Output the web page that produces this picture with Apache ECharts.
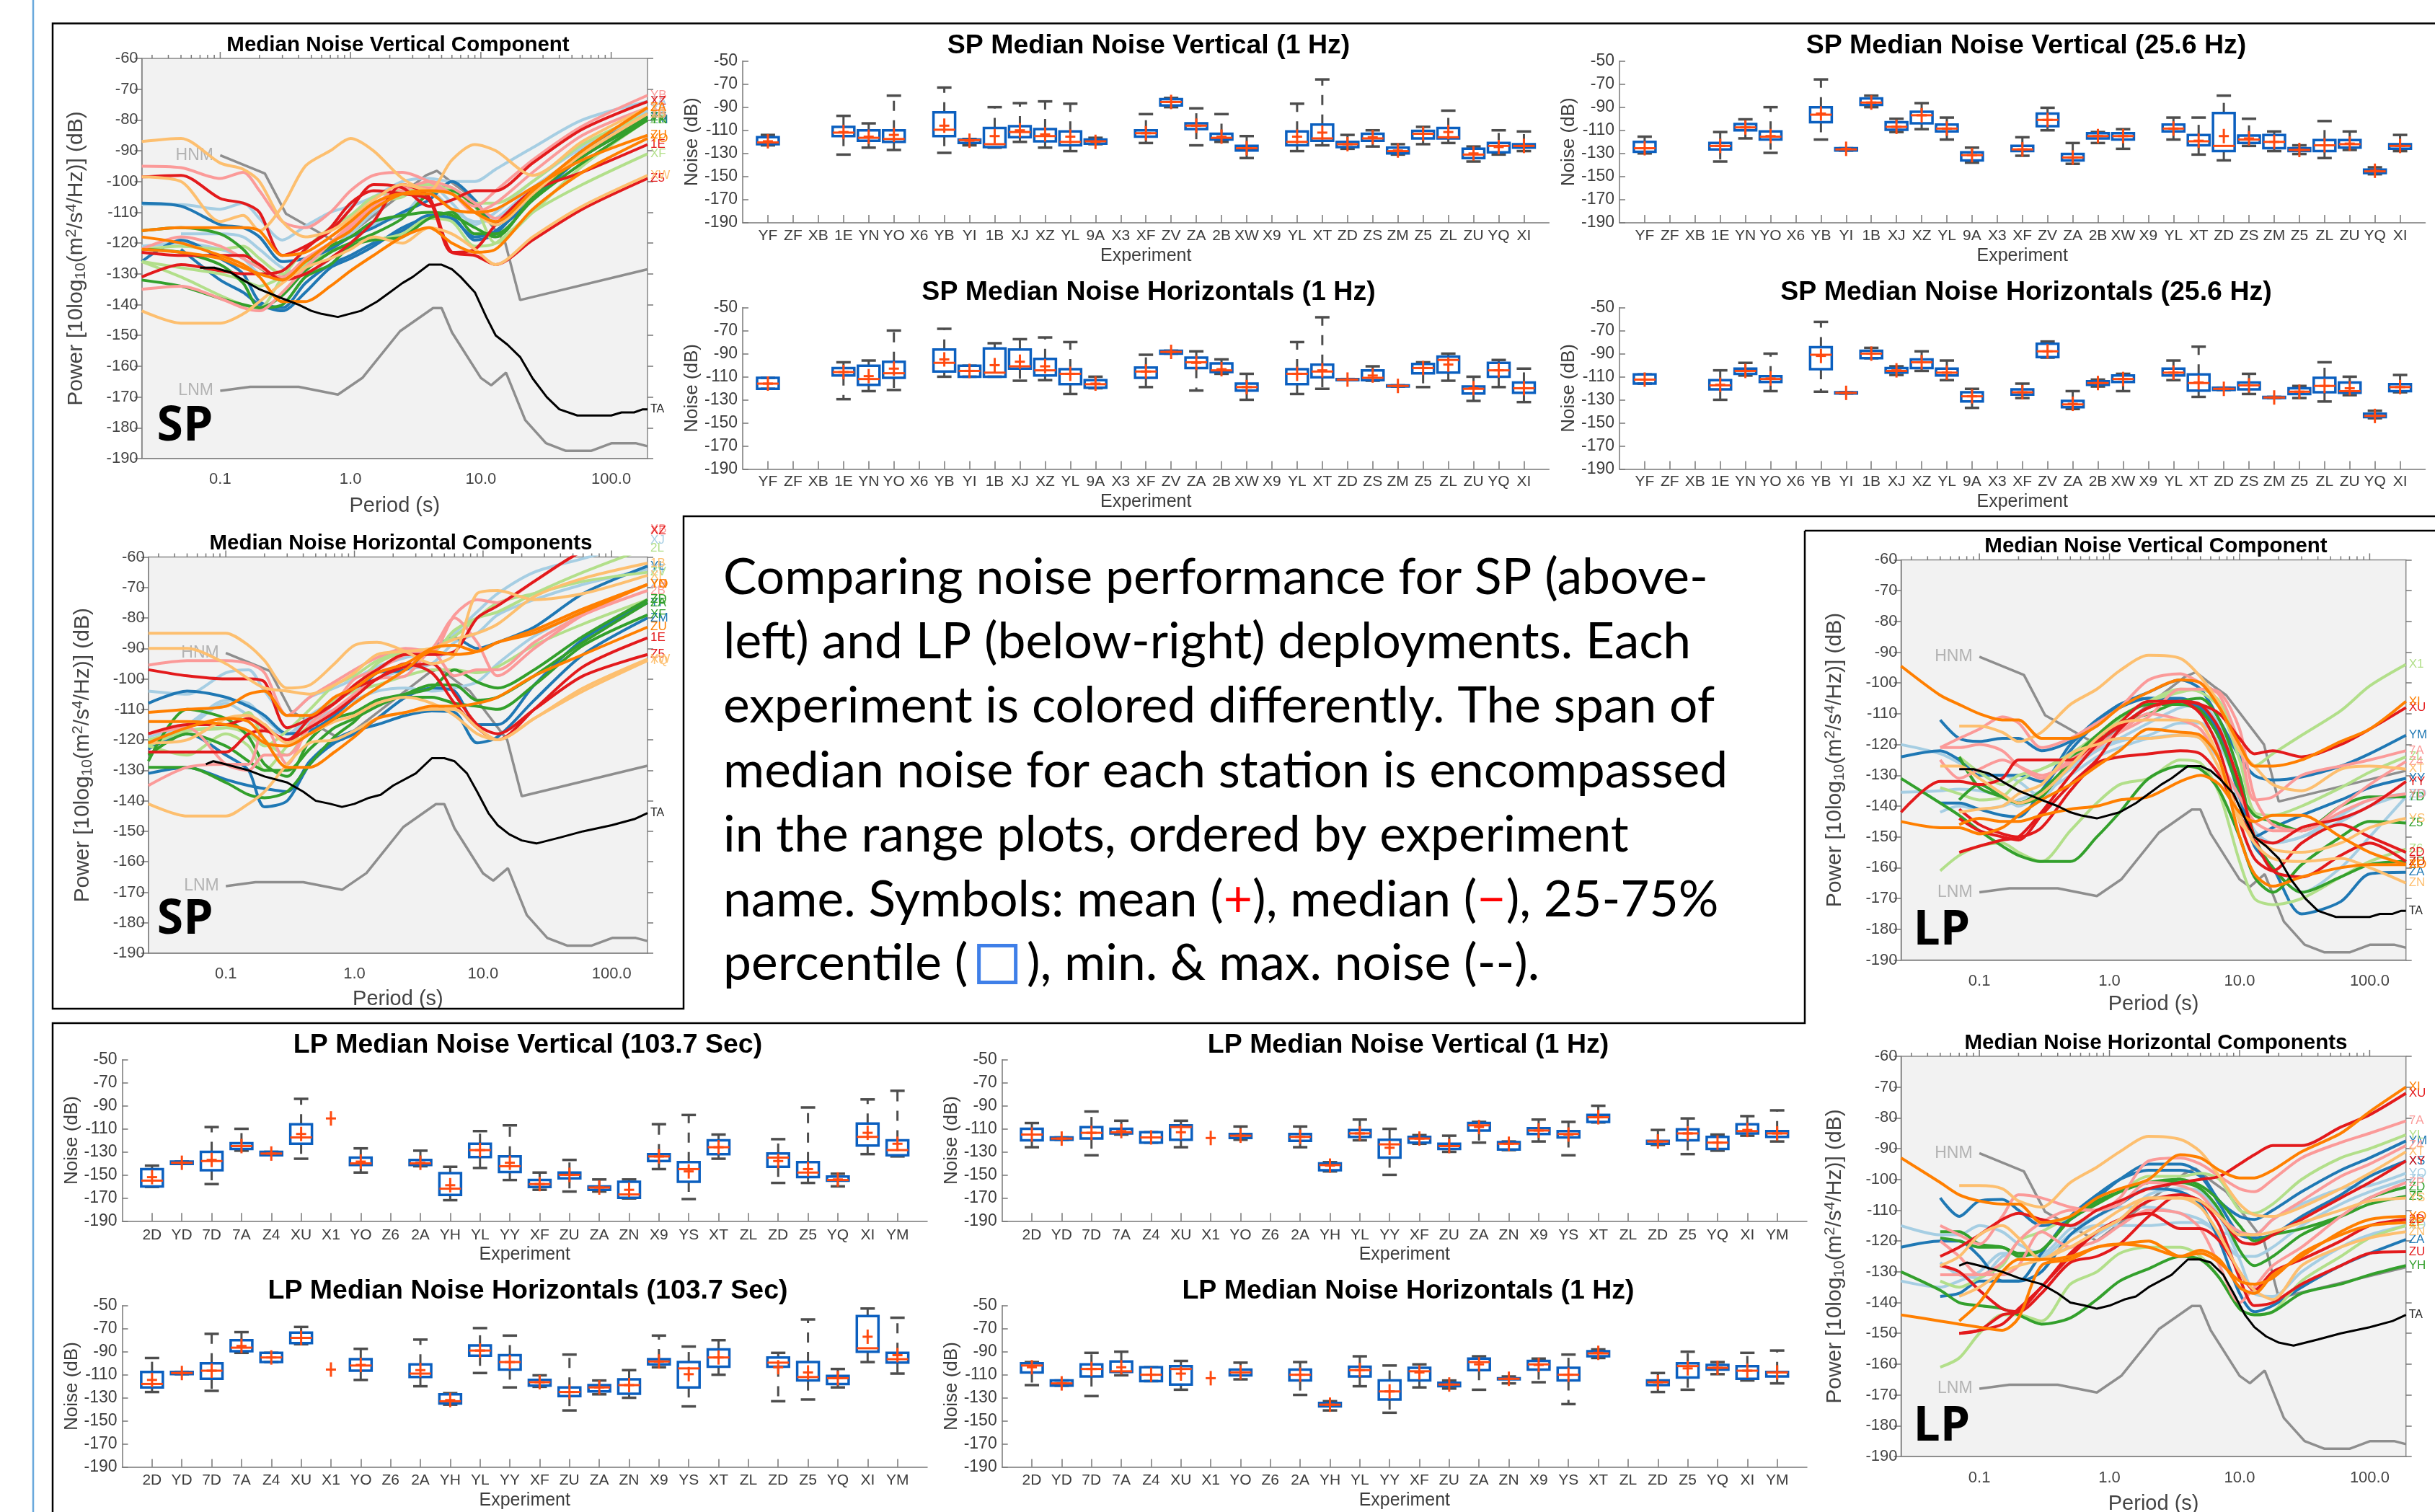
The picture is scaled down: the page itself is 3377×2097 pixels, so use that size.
<!DOCTYPE html>
<html><head><meta charset="utf-8"><style>html,body{margin:0;padding:0;background:#fff}#c{width:3377px;height:2097px}</style>
<script src="https://cdn.jsdelivr.net/npm/echarts@6/dist/echarts.min.js"></script></head><body><div id="c"></div>
<script>
// ---------- categories ----------
const spExperiments=['YF','ZF','XB','1E','YN','YO','X6','YB','YI','1B','XJ','XZ','YL','9A','X3','XF','ZV','ZA','2B','XW','X9','YL','XT','ZD','ZS','ZM','Z5','ZL','ZU','YQ','XI'];
const lpExperiments=['2D','YD','7D','7A','Z4','XU','X1','YO','Z6','2A','YH','YL','YY','XF','ZU','ZA','ZN','X9','YS','XT','ZL','ZD','Z5','YQ','XI','YM'];
const noiseTicks=[-190,-170,-150,-130,-110,-90,-70,-50];
// box rows: [low whisker, q1, median, q3, high whisker, mean]; _ = no data
const _=null, E=[_,_,_,_,_,_];
const spV1Hz=[[-123,-122,-120.5,-116,-114,-119.5],E,E,[-131,-115,-112,-107,-97.5,-111.5],[-125,-119,-116.5,-110,-104,-115.5],[-127,-120,-117.5,-110,-80,-114],E,[-129.5,-115,-109.5,-94.5,-73,-106],[-123,-121,-118.5,-118,-117.5,-119],[-125,-124.5,-122,-108,-90,-115],[-120,-116,-111.5,-106.5,-86.5,-110],[-125,-119.5,-115,-109,-85,-113.5],[-128,-123,-120,-111,-87,-115.5],[-122,-121.5,-119.5,-118,-116.5,-120],E,[-121,-115.5,-112.5,-110,-96,-112.5],[-90,-88.5,-85.5,-83,-82,-85.5],[-123,-109,-106,-104,-91,-106],[-120,-118,-116.5,-113,-96,-115.5],[-134,-127.5,-125.5,-123.5,-115,-125.5],E,[-128,-123,-120,-111,-87,-115.5],[-123,-119,-117,-105,-66,-112],[-126,-124.5,-122,-120,-114,-122],[-124,-119,-117,-113,-110,-116],[-131,-130,-128,-125,-122,-127.5],[-122,-117,-113,-110.5,-107,-113],[-121,-117,-116,-108,-93,-111.5],[-137,-134,-131,-126,-124,-130],[-131,-129,-123.5,-121,-110,-124.5],[-128,-125,-123.5,-122,-111,-123.5]];
const spH1Hz=[[-120.5,-120.5,-116,-111,-111,-116],E,E,[-129.5,-109,-106,-102.5,-97.5,-106],[-122.5,-117,-112,-100.5,-96,-109.5],[-121.5,-111,-107,-97,-70,-103],E,[-110,-105.5,-98,-86.5,-68.5,-95],[-110,-110,-105,-100.5,-100.5,-105],[-110,-110,-106.5,-85.5,-81,-100],[-113.5,-103,-101,-86.5,-77.5,-97],[-113,-109,-104.5,-94.5,-76,-101],[-125,-116.5,-107.5,-103.5,-80,-107.5],[-120,-119.5,-116.5,-113,-110,-116],E,[-119,-111,-105.5,-102,-91,-105.5],[-90,-90,-88.5,-87.5,-87.5,-88.5],[-122,-102.5,-97.5,-93.5,-88,-98],[-107.5,-106,-104.5,-98.5,-95,-103.5],[-130,-122,-119,-116,-107.5,-119],E,[-125,-116.5,-107.5,-103.5,-80,-107.5],[-120.5,-110.5,-105.5,-99.5,-58.5,-104.5],[-113,-113,-112.5,-112,-112,-112.5],[-113.5,-113,-111,-104.5,-101,-109],[-118.5,-118.5,-118,-117.5,-117.5,-118],[-119,-107,-102.5,-99,-97.5,-102.5],[-113.5,-106.5,-95.5,-92.5,-90,-99.5],[-131,-124.5,-120.5,-118.5,-110,-120],[-119,-110,-104.5,-98,-95.5,-104.5],[-132,-124,-120,-115,-103,-120]];
const spV25Hz=[[-130,-128.5,-125.5,-120,-115.5,-125.5],E,E,[-137,-126.5,-123.5,-121,-111.5,-123.5],[-117,-110,-107.5,-104.5,-100.5,-107.5],[-129.5,-118,-115.5,-111,-90,-115],E,[-118,-103,-96.5,-90,-66,-95.5],[-127.5,-127.5,-126.5,-125.5,-125.5,-126],[-90,-88,-86,-82.5,-80,-86],[-111.5,-109.5,-107,-103,-100,-107],[-109,-104,-97,-94,-86.5,-97],[-118,-111,-108.5,-105,-99,-108.5],[-138,-136,-131.5,-129,-125,-131.5],E,[-132,-128,-126.5,-123.5,-116,-126.5],[-110,-106.5,-101,-95.5,-90.5,-101],[-139,-136,-133.5,-130.5,-121,-133.5],[-121,-117,-115,-112.5,-111.5,-115],[-126,-118,-115,-112.5,-109,-115],E,[-118,-111,-108.5,-105,-99,-108.5],[-131,-123,-119.5,-114,-99,-119],[-136,-128,-123.5,-95,-80,-115],[-123.5,-121,-118,-114.5,-100,-117],[-128,-125.5,-120,-114,-111,-120],[-130.5,-128,-127,-125.5,-123,-127],[-134,-128,-123,-118.5,-102,-123],[-127,-125,-122,-118.5,-111,-121.5],[-148,-147,-145.5,-144,-142,-145],[-128,-126,-123.5,-122,-114,-123.5]];
const spH25Hz=[[-116,-116,-112.5,-108,-108,-112.5],E,E,[-130,-121,-117.5,-113,-104.5,-117],[-109,-107.5,-105,-103,-98,-105],[-122.5,-114.5,-112,-109.5,-90,-111.5],E,[-123,-103.5,-91,-84.5,-62.5,-92],[-124.5,-124.5,-124,-123.5,-123.5,-124],[-94,-94,-90,-87.5,-85,-90],[-108.5,-106.5,-105,-102.5,-101,-104.5],[-105,-102.5,-97.5,-95,-88,-97.5],[-113,-109,-106.5,-103,-96,-106.5],[-137,-131.5,-127,-123.5,-120.5,-127],E,[-128.5,-125.5,-123.5,-121,-116,-123.5],[-93.5,-93,-88,-81.5,-79.5,-88],[-138,-136.5,-134,-131,-122.5,-133.5],[-118.5,-117,-115.5,-114,-112.5,-115.5],[-122.5,-114.5,-112,-109,-107.5,-112],E,[-113,-109,-106.5,-103,-96,-106.5],[-127.5,-122,-115.5,-108,-84,-115],[-121.5,-121.5,-120.5,-119.5,-119.5,-120.5],[-125,-121,-117.5,-115,-107.5,-117.5],[-128.5,-128.5,-128,-127.5,-127.5,-128],[-128.5,-125,-123,-120,-118,-123],[-131.5,-123.5,-118,-111,-97.5,-118],[-126,-124,-122.5,-115,-110,-120],[-146,-145,-144,-142,-139.5,-144],[-123.5,-122.5,-119,-116.5,-108.5,-119]];
const lpV103=[[-160.5,-160,-155,-145,-142,-152],[-140.5,-140.5,-139.5,-138.5,-138.5,-139.5],[-158,-146,-138,-130,-108.5,-137],[-129,-127.5,-125,-122.5,-110,-125],[-133,-133,-131.5,-130,-130,-131.5],[-136,-123,-117.5,-106,-84,-114.5],[_,_,_,_,_,-101],[-148,-141.5,-140,-135,-127,-138.5],E,[-142.5,-141.5,-140,-137,-129,-139.5],[-172,-167.5,-162,-148.5,-143,-159],[-144,-134.5,-128.5,-123,-112,-128.5],[-154.5,-147.5,-142.5,-134,-107,-139.5],[-163,-160.5,-158,-154.5,-148,-158],[-164.5,-153,-150,-148,-137,-150],[-164.5,-163,-161,-160,-154,-161],[-170.5,-170,-167,-156,-154,-163],[-145,-138,-134,-132,-106,-134],[-171,-156,-145,-139,-98,-147],[-136,-132,-126,-120,-115,-126],E,[-157,-143,-135,-131.5,-119,-138],[-157,-152,-148,-139,-91.5,-145],[-160,-155,-154.5,-151.5,-149,-154],[-132,-124.5,-117,-105.5,-84.5,-113.5],[-134,-133,-128.5,-120,-77,-123]];
const lpH103=[[-125,-121,-118,-107.5,-95.5,-114.5],[-109.5,-109.5,-108.5,-107.5,-107.5,-108.5],[-124,-113.5,-106.5,-100,-74.5,-106.5],[-91,-89.5,-86.5,-80,-73,-85],[-99,-99,-95,-91,-91,-95],[-83.5,-82.5,-78,-73.5,-68.5,-78],[_,_,_,_,_,-105.5],[-114.5,-106.5,-102,-96.5,-87.5,-101.5],E,[-120,-112,-109,-101,-79.5,-106],[-136,-135,-133,-127,-126,-132],[-108.5,-93.5,-89,-84.5,-69.5,-89],[-121,-105.5,-99,-93,-76,-99],[-120.5,-119.5,-116.5,-114.5,-110.5,-116.5],[-141,-128.5,-125,-121,-92.5,-125],[-127,-124.5,-121,-119,-115,-121],[-130,-126.5,-119,-114,-106,-119],[-103.5,-101,-98.5,-96.5,-76,-98.5],[-137.5,-121,-104.5,-99,-85.5,-109.5],[-110,-103,-95,-88,-80,-95],E,[-133,-103,-99.5,-95,-91,-103.5],[-131.5,-115,-112,-99,-62,-108],[-121,-118,-113,-111,-105,-113],[-99,-90,-87,-59,-52.5,-77],[-109,-99.5,-96.5,-91,-60.5,-93]];
const lpV1Hz=[[-126,-120,-115,-110,-105,-115],[-119.5,-119.5,-118.5,-117.5,-117.5,-118.5],[-133,-118.5,-113.5,-108.5,-95,-113.5],[-115,-114,-113,-110,-103,-112],[-122,-122,-117.5,-113,-113,-117.5],[-126,-119.5,-108.5,-107,-103,-113],[_,_,_,_,_,-118],[-119.5,-118,-116,-114.5,-108,-116],E,[-126,-120.5,-117,-114.5,-108,-117],[-147,-146,-141.5,-140,-139,-142],[-120,-117,-114,-111,-102,-114],[-150,-135,-123.5,-119.5,-110,-126.5],[-123,-122,-118.5,-117,-115.5,-118.5],[-130,-127.5,-125,-123,-116,-125],[-122,-111.5,-107,-105,-104,-108.5],[-128.5,-128,-123,-121.5,-121,-123],[-121,-114.5,-111.5,-109.5,-102,-111.5],[-133,-117.5,-114.5,-112,-104,-115],[-104.5,-104,-100,-98,-90,-100],E,[-124,-123,-121,-120.5,-111,-121],[-132,-120,-114,-110.5,-101,-114],[-129,-127.5,-122,-117,-115,-122],[-116,-114,-112,-106,-99,-111],[-121,-117,-114,-112,-94,-114]];
const lpH1Hz=[[-119,-108,-102,-100,-99,-103.5],[-119.5,-119.5,-117.5,-115,-115,-117.5],[-128.5,-111.5,-105,-101,-91,-105],[-110.5,-107.5,-107,-98.5,-90,-103.5],[-115.5,-115.5,-110,-103.5,-103.5,-110],[-123,-118.5,-105,-102.5,-98,-109],[_,_,_,_,_,-113],[-114,-110.5,-108,-105.5,-99.5,-108],E,[-127.5,-115,-110,-105.5,-99,-110],[-141,-137.5,-136,-134.5,-133,-136],[-120,-111.5,-106,-103,-94,-106],[-143,-131.5,-124.5,-115,-102,-124.5],[-121,-115,-107,-104,-101,-108],[-122,-120,-118.5,-117,-115,-118.5],[-123,-106,-99,-96,-94,-101],[-117.5,-114,-113.5,-113,-111.5,-113.5],[-116.5,-105.5,-101,-98,-96,-101.5],[-135.5,-115,-110,-104,-92.5,-110],[-95.5,-94,-91.5,-89.5,-88,-91],E,[-125,-119,-116.5,-115,-108.5,-116.5],[-123,-112.5,-102.5,-100,-90,-104.5],[-109.5,-105.5,-104,-101.5,-99,-104],[-115,-113.5,-106.5,-102.5,-91,-106.5],[-117.5,-111.5,-108,-107.5,-89,-108]];

// ---------- spectra ----------
const spPeriods=[0.025,0.05,0.1,0.15,0.2,0.3,0.45,0.7,1,1.5,2.5,4,6,9,13,25,60,190];
const lpPeriods=[0.025,0.05,0.07,0.1,0.15,0.2,0.3,0.5,0.8,1.2,2,3.5,5,7,10,13,18,30,60,100,190];
const hnmPeriods=[0.1,0.22,0.32,0.8,3.8,4.6,6.3,7.9,15.4,20,190];
const hnmValues=[-91.5,-97.4,-110.5,-120,-98,-96.5,-101,-104,-120,-138.5,-128.5];
const lnmPeriods=[0.1,0.17,0.4,0.8,1.24,2.4,4.3,5,6,10,12,15.6,21.9,31.6,45,70,101,154,190];
const lnmValues=[-168,-166.7,-166.7,-169.2,-163.7,-148.6,-141.1,-141.1,-149,-163.8,-166.2,-162.1,-177.5,-185,-187.5,-187.5,-185,-185,-186];
const taVP=[0.07,0.09,0.12,0.15,0.2,0.3,0.4,0.5,0.6,0.8,1.2,1.6,2,2.5,3,4,5,6,7,9,11,13,16,20,25,32,40,55,100,120,150,175,190];
const taVV=[-128,-128,-129.5,-132,-135,-138,-140,-142,-143,-144,-142,-139,-136,-133,-131,-127,-127,-128.5,-131,-136,-144,-150,-153,-157,-164,-170,-174,-176,-176,-175,-175,-174,-174];
const taHP=[0.07,0.08,0.1,0.15,0.2,0.3,0.4,0.5,0.65,0.8,1,1.3,1.6,2,3,4,5,6,7.5,9,11,13,16,20,26,40,60,100,150,190];
const taHV=[-128,-127,-128,-130,-132,-134,-137,-140,-141,-142,-141,-139,-138,-135,-131,-126,-126,-127,-131,-137,-144,-148,-151,-153,-154,-152,-150,-148,-146,-144];
const minorPeriods=[0.03,0.04,0.05,0.06,0.07,0.08,0.09,0.2,0.3,0.4,0.5,0.6,0.7,0.8,0.9,2,3,4,5,6,7,8,9,20,30,40,50,60,70,80,90];
const decadePeriods=[0.1,1,10,100];
// palette index: 0 lt blue,1 blue,2 lt green,3 green,4 pink,5 red,6 lt orange,7 orange
const spVNames=['ZA','ZS','XT','ZD','ZM','YF','ZL','2B','XF','YI','ZV','YN','YB','XB','XJ','XZ','Z5','1E','XW','YL','1B','ZU','YO','ZA'];
const spVColours=[0,0,0,1,1,1,2,2,2,3,3,3,4,4,4,5,5,5,6,6,6,7,7,7];
const spVCurves=[
[-107.5,-107.5,-109,-107,-112,-119,-114.5,-110,-108,-105,-100,-99,-100,-100,-96,-89,-80,-74],
[_,-117,-117,-118,-122,-128,-130,-125,-120,-114,-111,-103,-109,-113,-112,-102,-91,-77],
[-121,-120,-122,-125,-130,-131,-128,-122,-117,-110,-103,-101,-107,-114,-110,-100,-89,-78],
[-107,-108,-114,-115,-118,-126,-125,-122,-118,-115,-110,-106,-100,-106,-114,-104,-90,-79],
[-126,-119,-125,-130,-139,-141,-133,-127,-124,-120,-116,-111,-112,-118,-116,-106,-92,-80],
[_,-122,-132,-136,-140,-142,-136,-128,-125,-121,-115,-112,-112,-119,-117,-104,-92,-79],
[-122,-121,-122,-121,-125,-130,-127,-120,-115,-107,-105,-100,-102,-107,-107,-100,-88,-78],
[-126,-131,-137,-140,-141,-131,-122,-115,-111,-105,-103,-101,-103,-108,-120,-110,-95,-80],
[-126,-128,-130,-132,-134,-131,-127,-123,-120,-119,-117,-112,-113,-121,-120,-110,-101,-91],
[-116,-115,-117,-122,-128,-131,-126,-121,-118,-113,-111,-110,-111,-115,-118,-105,-92,-80],
[-132,-134,-138,-140,-141,-137,-129,-123,-120,-117,-112,-104,-103,-108,-114,-103,-91,-79],
[-122,-123,-127,-133,-141,-140,-131,-127,-121,-119,-118,-112,-110,-117,-117,-106,-94,-80],
[-95,-95.5,-99,-97,-103,-113,-115,-110,-103,-98,-97,-100,-104,-108,-103,-93,-82,-72],
[-122,-118,-121,-125,-128,-131,-125,-120,-115,-108,-103,-100,-102,-107,-112,-103,-91,-78],
[-135,-134,-138,-141,-142,-136,-128,-120,-114,-108,-102,-102,-104,-110,-107,-97,-85,-76],
[-98.5,-98,-105.5,-107,-110,-124,-121,-116,-109,-101,-102,-108,-106,-103,-103,-94,-83,-74],
[-123,-124,-124,-124,-127,-132,-130,-125,-120,-113,-101,-105,-123,-124,-127,-119,-109,-99],
[-131,-127,-129,-130,-130,-129,-122,-115,-107,-103,-104,-106,-123,-122,-114,-103,-97,-88],
[-142,-146,-146,-143,-139,-133,-128,-125,-122,-118,-120,-115,-117,-122,-127,-118,-108,-98],
[-98.5,-100,-113,-111,-116,-108,-95,-90,-86,-90,-99,-103,-93,-88,-90,-98,-87,-76],
[-87,-86,-94,-96,-100,-113,-118,-116,-112,-106,-101,-103,-104,-110,-114,-104,-91,-78],
[-116,-115,-115,-115,-116,-124,-123,-118,-113,-107,-104,-104,-109,-110,-109,-102,-93,-85],
[-118,-120,-124,-127,-131,-139,-139,-134,-129,-124,-118,-115,-120,-123,-122,-109,-97,-86],
[-122,-123,-125,-128,-130,-132,-126,-120,-116,-109,-104,-103,-104,-110,-113,-103,-90,-76]];
const spHNames=['XJ','XT','ZS','YL','ZM','YF','2L','ZV','ZR','ZD','ZA','XF','XB','2B','YB','XZ','Z5','1E','XW','1B','XI','YQ','YO','ZU','YN'];
const spHColours=[0,0,0,1,1,1,2,2,2,3,3,3,4,4,4,5,5,5,6,6,6,6,7,7,7];
const spHCurves=[
[-104,-105,-98,-97,-104,-112,-106,-103,-100,-96,-93,-91,-85,-78,-72,-65,-60.5,-54.5],
[-120,-116,-108,-112,-116,-118,-112,-107,-104,-100,-97,-95,-88,-85,-79,-74,-69,-64],
[-119,-115,-107,-108,-113,-118,-114,-110,-107,-104,-103,-104,-103,-101,-95,-86,-78,-69],
[-108,-104,-106,-109,-112,-118,-117,-112,-106,-98,-97,-90,-86.5,-90,-88,-83,-72,-63],
[-131,-129,-133,-135,-136,-137,-127,-120,-117,-115,-112,-110.5,-111,-121,-119,-107,-92,-80],
[-123,-118,-125,-130,-142,-140,-128,-121,-118,-113,-106,-103,-104,-115,-115,-102,-87,-75],
[-122,-117,-116,-118,-122,-117,-110,-102,-99,-94,-91,-91,-84,-80,-78,-72,-65,-57],
[-120,-117,-116,-111,-120,-125,-115,-108,-103,-95,-91,-90,-86,-80,-75,-72,-68,-65],
[-122,-125,-118,-122,-130,-122,-115,-107,-104,-102,-99,-97,-97,-98,-96,-89,-82,-74],
[-127,-110,-113,-119,-128,-132,-120,-113,-111,-107,-105,-103,-97,-101,-103,-97,-86,-74],
[-125,-118,-122,-127,-130,-130,-123,-116,-113,-109,-105,-102,-102,-107,-106,-99,-88,-75],
[-129,-129,-134,-138,-139,-137,-128,-119,-114,-107,-106,-106,-108,-109,-110,-102,-89,-79],
[-95.5,-94,-94,-95,-98,-112,-106,-101,-97,-93,-90,-91,-79,-74,-75,-68,-58,-51],
[-118,-116,-128,-130,-125,-125,-116,-110,-105,-100,-99,-91,-99,-97,-97,-88,-79,-71],
[-135,-129,-128,-128,-115,-128,-115,-108,-100,-97,-92,-90,-80,-88,-99,-90,-79,-69],
[-97,-99,-100,-100,-101,-116,-113,-108,-102,-97,-92,-92,-91,-80,-76,-68,-58,-51.5],
[-118,-115,-115,-113,-116,-120,-116,-111,-106,-100,-96,-95,-105,-115,-118,-110,-99,-92],
[-124,-124,-124,-118,-117,-120,-113,-108,-103,-100,-95,-98,-108,-116,-120,-110,-96,-86.5],
[-141,-145,-145,-141,-137,-128,-121,-120,-117,-113,-111,-110,-110,-116,-120,-113,-103,-93.5],
[-90,-90,-95,-100,-103,-104,-105,-102,-98,-92,-91,-90,-87,-85,-82,-73,-67,-62],
[-85,-85,-85,-89,-94,-103,-102,-95,-89,-88,-91,-95,-92,-72,-71,-74,-72,-66],
[-121,-120,-113,-112,-115,-121,-118,-114,-112,-108,-106,-108,-112,-118,-120,-113,-104,-94],
[-111,-110,-109,-105,-104,-112,-112,-106,-103,-98,-95,-90,-89,-91,-88,-85,-78,-69],
[-121,-116,-113,-114,-120,-129,-129,-124,-119,-113,-111,-109,-109,-108,-106,-99,-92,-83],
[-114,-114,-115,-117,-121,-122,-118,-113,-108,-103,-97,-91,-92,-91,-88,-84,-77,-69]];
const lpVNames=['ZP','YO','ZB','YM','XY','ZA','X1','Z6','ZL','Z5','7D','ZD','7A','Z4','YD','XU','YY','2D','ZU','XT','YS','ZN','XI','ZF','XO'];
const lpVColours=[0,0,0,1,1,1,2,2,2,3,3,3,4,4,4,5,5,5,5,6,6,6,7,7,7];
const lpVCurves=[
[-120,-123,-126,-130,-130,-132,-137,-127,-122,-119,-117,-113,-113,-120,-135,-148,-152,-150,-143,-138,-136],
[-135.5,-135,-134.5,-135,-137,-140,-136,-130,-124,-121,-118,-117,-118,-125,-138,-148,-152,-150,-145,-140,-136],
[_,-142,-140,-141,-140,-138,-135,-128,-122,-118,-113,-108,-107,-114,-130,-150,-160,-168,-160,-150,-137],
[_,-112,-118,-119,-118,-118,-122,-119,-112,-107,-103,-99,-102,-112,-124,-130,-131.5,-130.5,-127,-123,-117],
[-124,-122,-125,-130,-130,-130,-132,-120,-113,-108,-105,-106,-108,-116,-135,-150,-147,-143,-138,-134,-131],
[_,-139,-139,-141,-143,-143.5,-135,-122,-113,-107,-105,-105,-108,-117,-137,-153,-160,-175,-171,-162,-161.5],
[_,_,-124,-129,-133,-130,-128,-123,-117,-111,-106,-103,-102,-106,-120,-127,-123,-117,-109,-101,-94],
[_,-161,-156,-153,-152,-155,-158,-148,-139,-133,-131,-125,-126,-136,-158,-170,-172,-170,-163,-158,-154],
[_,-134,-136,-138,-137,-132,-128,-124,-118,-112,-106,-102,-103,-108,-125,-142,-143,-140,-134,-129,-124],
[-131,-139,-143,-148,-153,-156,-158,-158,-150,-142,-131,-127,-128,-135,-150,-163,-168,-159,-150,-145,-145.5],
[_,_,-124,-134,-137,-139,-137,-125,-117,-111,-107,-107,-109,-118,-135,-143,-145,-148,-140,-137,-137],
[_,_,-138,-133,-137,-139,-135,-126,-118,-113,-110,-106,-105,-112,-130,-150,-160,-168,-163,-159,-158],
[_,-121,-118,-115,-111,-113,-121,-118,-113,-108,-99,-97,-100,-104,-120,-138,-137,-130,-127,-125,-122],
[_,-125,-131,-128,-125,-127,-130,-126,-121,-116,-110,-112,-115,-125,-137,-145,-148,-148,-140,-133,-125.5],
[_,-121,-121,-120,-122,-127,-131,-125,-120,-116,-111,-102,-102,-103,-115,-137,-146,-148,-142,-138,-136],
[-142,-132,-132,-133,-131,-125,-125,-125,-119,-114,-108,-106,-107,-110,-118,-123,-122,-124,-120,-115,-108],
[_,_,-141,-146,-149,-150,-147,-135,-126,-124,-123,-122,-123,-130,-143,-150,-152,-147,-144,-140,-132],
[_,_,-155,-153,-151,-150,-142,-130,-120,-113,-106,-106,-110,-122,-145,-157,-161,-152,-146,-150,-155],
[_,_,-144,-148,-150,-151,-143,-133,-125,-115,-108,-106,-107,-115,-133,-150,-161,-163,-156,-152,-158],
[_,_,-114,-114,-116,-119,-116,-107,-102,-96,-91,-92,-98,-107,-122,-127,-133,-135,-128,-127,-128],
[_,-127,-127,-131,-136,-139,-136,-127,-118,-113,-112,-112,-113,-125,-145,-150,-154,-155,-152,-147,-144],
[_,_,-142,-141,-140,-136,-133,-123,-120,-118,-118,-117,-118,-128,-143,-152,-157,-158,-157,-160,-165],
[-94.5,-104,-107,-110,-112,-112,-118,-118,-114,-108,-103,-99,-100,-108,-120,-127,-127,-125,-119,-115,-106],
[-145,-147,-147,-149,-147,-143,-138,-133,-127,-122,-115,-116,-117,-125,-150,-162,-166,-163,-160,-159,-159],
[_,_,-146,-144,-145,-145,-143,-141,-140,-138,-137,-132,-130,-133,-142,-145,-143,-143,-150,-155,-159]];
const lpHNames=['YO','ZP','YD','YM','XS','ZA','YL','XF','ZD','Z5','YH','7A','Z4','ZP','XU','XY','ZU','2D','XT','ZN','YS','XI','XO','ZF'];
const lpHColours=[0,0,0,1,1,1,2,2,3,3,3,4,4,4,5,5,5,5,6,6,6,7,7,7];
const lpHCurves=[
[-115,-118,-118,-115,-117,-121,-124,-116,-112,-109,-109,-111,-113,-117,-118,-118,-113,-108,-103,-102,-98],
[_,-127,-131,-132,-125,-124,-125,-118,-115,-115,-115,-114,-114,-118,-125,-125,-122,-115,-108,-104,-100],
[-133,-135,-133,-130,-124,-124,-125,-122,-118,-113,-105,-103,-104,-112,-126,-137,-138,-130,-122,-118,-115],
[_,-106,-112,-107,-106.5,-110,-115,-113,-106,-100,-95,-95,-98,-107,-112,-113,-110,-104,-97,-93,-87.5],
[-122,-120,-120,-125,-133,-133,-124,-112,-105,-100,-97,-97,-99,-108,-118,-119,-118,-112,-105,-99,-94],
[_,-138,-137,-133,-133,-133,-130,-118,-112,-108,-103,-104,-108,-120,-137,-143,-141,-135,-128,-124,-119.5],
[_,-133,-135,-132,-128,-120,-117,-112,-108,-104,-99,-99,-98,-100,-110,-111,-108,-100,-93,-90,-85.5],
[_,-161,-158,-150,-144,-144,-146,-134,-130,-124,-122,-122,-125,-132,-142,-144,-143,-133,-125,-119,-115],
[_,-117,-117,-121,-122,-124,-123,-113,-107,-104,-101,-101,-103,-110,-123,-128,-125,-118,-112,-106,-102.5],
[_,-119,-120,-122,-122,-125,-123,-113,-108,-104,-101,-100,-102,-107,-115,-120,-118,-116,-112,-108,-105.5],
[-130,-136,-140,-141,-142,-144,-147,-145,-139,-133,-129,-125,-126,-132,-142,-144,-143,-137,-134,-131,-128],
[_,-115,-118,-121,-112,-105,-106,-109,-110,-106,-94,-93,-95,-99,-103,-104,-100,-93,-88,-85,-81],
[_,-131,-131,-131,-127,-120,-114,-110,-110,-108,-101,-102,-105,-112,-117,-118,-113,-107,-99,-95,-89],
[_,-120,-125,-131,-131,-128,-117,-122,-120,-115,-110,-111,-116,-128,-140,-135,-128,-122,-112,-106,-101],
[_,-125,-122,-118,-113,-111,-113,-115,-110,-107,-103,-101,-100,-99,-95,-92,-89,-89,-83,-79,-72],
[_,_,-150,-149,-144,-143,-135,-125,-117,-113,-107,-105,-107,-112,-120,-121,-118,-113,-106,-101,-94],
[_,-128,-130,-136,-142,-143,-137,-127,-125,-121,-112,-105,-107,-115,-132,-141,-140,-134,-128,-124,-123.5],
[_,_,-150,-149,-147,-142,-135,-124,-117,-113,-111,-116,-116,-120,-130,-136,-130,-126,-120,-115,-113],
[_,_,-102,-102,-103,-107,-109,-101,-96,-91,-86,-87,-91,-99,-108,-111.5,-112,-109,-103,-98,-91],
[_,_,-138,-135,-130,-128,-126,-122,-117,-113,-106,-106,-109,-118,-130,-136,-139,-128,-122,-119,-117],
[_,-128,-125,-118,-115,-119,-126,-120,-115,-110,-106,-106,-107,-112,-118,-118,-117,-114,-110,-107,-106],
[-93,-101,-105,-107,-108,-108,-114,-112,-106,-103,-100,-92,-93,-97,-99.5,-99.5,-97,-91,-85,-78,-70],
[_,_,-146,-140,-130,-126,-126,-125,-122,-121,-120,-125,-123,-126,-135,-137,-131,-125,-117,-113,-112],
[-144,-146,-147,-148,-149,-145,-128,-126,-122,-121,-122,-125,-124,-127,-133,-134,-132,-124,-118,-115,-114]];
const noteLines=['Comparing noise performance for SP (above-','left) and LP (below-right) deployments. Each','experiment is colored differently. The span of','median noise for each station is encompassed','in the range plots, ordered by experiment','name. Symbols: mean ({r|+}), median ({r|\u2212}), 25-75%','percentile ( {sq|} ), min. & max. noise (--).'];

// ---------- layout and styles ----------
const palette=['#a6cee3','#1f78b4','#b2df8a','#33a02c','#fb9a99','#e31a1c','#fdbf6f','#ff7f00'];
const sans='"Liberation Sans",Arial,sans-serif';
const grid=[],xAxis=[],yAxis=[],series=[],title=[],graphic=[];
function addTitle(text,cx,cy,size){title.push({text,left:cx,top:cy,textAlign:'center',textVerticalAlign:'middle',textStyle:{fontFamily:sans,fontWeight:'bold',fontSize:size,color:'#000'}});}
function addBoxPanel(t,cats,rows,L,R,T,B,tc,ty,xnY,ynX,lblY){
  const g=grid.length, ax=xAxis.length, ay=yAxis.length;
  grid.push({left:L,top:T,width:R-L,height:B-T,outerBoundsMode:'none'});
  addTitle(t,tc,ty-1.5,37.5);
  const data=['',...cats,''];
  xAxis.push({gridIndex:g,type:'category',data,boundaryGap:false,axisLine:{lineStyle:{color:'#777',width:1.5}},
    axisTick:{show:true,inside:true,length:11,alignWithLabel:true,interval:(i)=>i>0&&i<data.length-1,lineStyle:{color:'#777',width:1.5}},
    axisLabel:{interval:0,color:'#3c3c3c',fontFamily:sans,fontSize:21,margin:lblY-B-11},
    name:'Experiment',nameLocation:'middle',nameGap:xnY-B-14,nameTextStyle:{fontFamily:sans,fontSize:25,color:'#3c3c3c'}});
  yAxis.push({gridIndex:g,type:'value',min:-190,max:-50,splitLine:{show:false},axisLine:{show:true,lineStyle:{color:'#777',width:1.5}},
    axisTick:{show:true,inside:true,length:8,customValues:noiseTicks,lineStyle:{color:'#777',width:1.5}},
    axisLabel:{customValues:noiseTicks,color:'#3c3c3c',fontFamily:sans,fontSize:23,margin:7},
    name:'Noise (dB)',nameLocation:'middle',nameGap:L-ynX-20,nameTextStyle:{fontFamily:sans,fontSize:26,color:'#3c3c3c'}});
  series.push({type:'custom',coordinateSystem:'cartesian2d',xAxisIndex:ax,yAxisIndex:ay,name:t,clip:false,encode:{x:0,y:[1,2,3,4,5,6]},
    data:rows.map((r,i)=>[i+1,...r]),renderItem:renderBox});
}
function renderBox(p,api){
  const x=api.value(0),v=[1,2,3,4,5,6].map(i=>{const n=api.value(i);return (n===null||n===undefined||isNaN(n))?null:n;});
  const [lo,q1,med,q3,hi,mean]=v;
  const c=d=>api.coord([x,d]);
  const ch=[],gray='#4d4d4d',orange='#ff4a10',blue='#0b5fbf';
  const line=(x1,y1,x2,y2,stroke,w,dash)=>ch.push({type:'line',shape:{x1,y1,x2,y2},style:{stroke,lineWidth:w,lineDash:dash||null,fill:null}});
  if(mean===null&&med===null) return {type:'group',children:[]};
  const px=c(mean!==null?mean:med)[0];
  if(med!==null){
    const yLo=c(lo)[1],y1=c(q1)[1],yM=c(med)[1],y3=c(q3)[1],yHi=c(hi)[1];
    line(px,y1,px,yLo,gray,3,[14,13]);line(px,y3,px,yHi,gray,3,[14,13]);
    line(px-10,yLo,px+10,yLo,gray,3.5);line(px-10,yHi,px+10,yHi,gray,3.5);
    ch.push({type:'rect',shape:{x:px-15,y:y3,width:30,height:Math.max(y1-y3,1)},style:{stroke:blue,lineWidth:3.5,fill:null}});
    line(px-15,yM,px+15,yM,orange,3);
  }
  if(mean!==null){
    const m=c(mean)[1];
    line(px-7,m,px+7,m,orange,3);line(px,m-10,px,m+10,orange,3);
  }
  return {type:'group',children:ch};
}
function pts(xs,ys){const o=[];xs.forEach((x,i)=>{if(ys[i]!==null)o.push([x,ys[i]]);});return o;}
function addSpectrum(t,periods,names,colours,curves,taP,taV,L,R,T,B,tc,ty,xnY,ynX,lblY,tag){
  const g=grid.length;
  const ax=xAxis.length;
  grid.push({left:L,top:T,width:R-L,height:B-T,outerBoundsMode:'none',show:true,backgroundColor:'#f2f2f2',borderColor:'#888',borderWidth:1.5});
  addTitle(t,tc,ty,29.5);
  xAxis.push({gridIndex:g,type:'log',logBase:10,min:0.025,max:190,splitLine:{show:false},axisLine:{show:true,onZero:false,lineStyle:{color:'#888',width:1.5}},axisTick:{show:false},
    axisLabel:{showMinLabel:false,showMaxLabel:false,color:'#444',fontFamily:sans,fontSize:22,margin:lblY-B-11,formatter:(v)=>{const e=Math.log10(v);return Math.abs(e-Math.round(e))<1e-6?v.toFixed(1):'';}},
    minorSplitLine:{show:false},name:'Period (s)',nameLocation:'middle',nameGap:xnY-B-11,nameTextStyle:{fontFamily:sans,fontSize:29,color:'#444'}});
  const rich={a:{fontFamily:sans,fontSize:30,color:'#444'},s:{fontFamily:sans,fontSize:21,color:'#444',verticalAlign:'bottom',padding:[13,0,0,0]},u:{fontFamily:sans,fontSize:21,color:'#444',verticalAlign:'top',padding:[0,0,11,0]}};
  const yi=yAxis.length;
  yAxis.push({gridIndex:g,type:'value',min:-190,max:-60,interval:10,splitLine:{show:false},axisLine:{show:true,lineStyle:{color:'#888',width:1.5}},
    axisTick:{show:true,length:10,lineStyle:{color:'#777',width:1.5}},axisLabel:{color:'#444',fontFamily:sans,fontSize:22,margin:5},
    name:'{a|Power [10log}{s|10}{a|(m}{u|2}{a|/s}{u|4}{a|/Hz)] (dB)}',nameLocation:'middle',nameGap:L-ynX-20,nameTextStyle:{rich,fontFamily:sans,fontSize:30,color:'#444'}});
  yAxis.push({gridIndex:g,type:'value',position:'right',min:-190,max:-60,interval:10,splitLine:{show:false},axisLine:{show:false},axisTick:{show:true,length:8,lineStyle:{color:'#777',width:1.5}},axisLabel:{show:false}});
  const base={type:'line',xAxisIndex:ax,yAxisIndex:yi,showSymbol:false,symbol:'none',silent:true};
  const noise=(n,xs,ys)=>({...base,name:n,lineStyle:{color:'#8e8e8e',width:3.5},data:pts(xs,ys),z:2});
  const noiseLabel=(n,xs,ys)=>({type:'scatter',name:n+' label',xAxisIndex:ax,yAxisIndex:yi,symbolSize:1,itemStyle:{color:'rgba(0,0,0,0)'},silent:true,z:2,data:[[xs[0],ys[0]]],
    label:{show:true,position:'left',distance:9,formatter:n,color:'#a3a3a3',fontFamily:sans,fontSize:23}});
  series.push(noise('HNM',hnmPeriods,hnmValues),noise('LNM',lnmPeriods,lnmValues),noiseLabel('HNM',hnmPeriods,hnmValues),noiseLabel('LNM',lnmPeriods,lnmValues));
  curves.forEach((c,i)=>{
    const col=palette[colours[i]];
    series.push({...base,name:names[i],smooth:0.28,lineStyle:{color:col,width:4},itemStyle:{color:col},z:3,data:pts(periods,c),
      endLabel:{show:true,formatter:names[i],color:col,fontFamily:sans,fontSize:17,distance:4}});
  });
  series.push({...base,name:'TA',lineStyle:{color:'#000',width:3},itemStyle:{color:'#000'},z:4,data:pts(taP,taV),
    endLabel:{show:true,formatter:'TA',color:'#222',fontFamily:sans,fontSize:16,distance:4}});
  // period ticks on the top edge, placed by the log axis
  const tick=(arr,len)=>({type:'custom',coordinateSystem:'cartesian2d',xAxisIndex:ax,yAxisIndex:yi,clip:false,silent:true,encode:{x:0,y:1},data:arr.map(p=>[p,-60]),
    renderItem:(pp,api)=>{const q=api.coord([api.value(0),api.value(1)]);return {type:'line',shape:{x1:q[0],y1:q[1],x2:q[0],y2:q[1]-len},style:{stroke:'#777',lineWidth:1.5}};}});
  series.push(tick(minorPeriods,5),tick(decadePeriods,9));
  graphic.push({type:'text',x:L+tag.dx,y:tag.y,style:{text:tag.text,fontFamily:'"Open Sans",sans-serif',fontWeight:'bold',fontSize:66,fill:'#000',verticalAlign:'middle'},z:20});
}
addSpectrum('Median Noise Vertical Component',spPeriods,spVNames,spVColours,spVCurves,taVP,taVV,196.6,898,81,636,547,58,698,103,665,{text:'SP',y:592,dx:21});
addSpectrum('Median Noise Horizontal Components',spPeriods,spHNames,spHColours,spHCurves,taHP,taHV,205.8,898,772.5,1322,551,749,1382,112,1351,{text:'SP',y:1276,dx:12});
addSpectrum('Median Noise Vertical Component',lpPeriods,lpVNames,lpVColours,lpVCurves,taVP,taVV,2636.5,3336.7,776.4,1331.5,2985,752.5,1389,2542,1361,{text:'LP',y:1291,dx:17});
addSpectrum('Median Noise Horizontal Components',lpPeriods,lpHNames,lpHColours,lpHCurves,taHP,taHV,2636.5,3336.7,1465,2020,2985,1441.6,2082,2542,2049.5,{text:'LP',y:1979,dx:17});
addBoxPanel('SP Median Noise Vertical (1 Hz)',spExperiments,spV1Hz,1030,2148.4,84.5,309,1588,60,357,962,328);
addBoxPanel('SP Median Noise Horizontals (1 Hz)',spExperiments,spH1Hz,1030,2148.4,426.4,650.5,1588,402,698,962,669);
addBoxPanel('SP Median Noise Vertical (25.6 Hz)',spExperiments,spV25Hz,2246,3363.5,84.5,309,2805,60,357,2178,328);
addBoxPanel('SP Median Noise Horizontals (25.6 Hz)',spExperiments,spH25Hz,2246,3363.5,426.4,650.5,2805,402,698,2178,669);
addBoxPanel('LP Median Noise Vertical (103.7 Sec)',lpExperiments,lpV103,169.5,1286,1469.7,1693.3,727,1446,1741.7,100,1713.6);
addBoxPanel('LP Median Noise Horizontals (103.7 Sec)',lpExperiments,lpH103,169.5,1286,1810.8,2034.4,727,1787,2083,100,2054);
addBoxPanel('LP Median Noise Vertical (1 Hz)',lpExperiments,lpV1Hz,1389.7,2506,1469.7,1693.3,1948,1446,1741.7,1319.5,1713.6);
addBoxPanel('LP Median Noise Horizontals (1 Hz)',lpExperiments,lpH1Hz,1389.7,2506,1810.8,2034.4,1948,1787,2083,1319.5,2054);
// frames and note
const frame=(points)=>graphic.push({type:'polyline',shape:{points},style:{stroke:'#000',lineWidth:2.5,fill:null},z:1});
frame([[3377,32.5],[73,32.5],[73,1399],[948,1399],[948,716],[3377,716]]);
frame([[2503,736],[3377,736]]);
frame([[2503,736],[2503,1419],[73,1419],[73,2097]]);
graphic.push({type:'line',shape:{x1:46,y1:0,x2:46,y2:2097},style:{stroke:'#6aa9dc',lineWidth:2.5},z:1});
const noteY=[802,891,980,1070,1159,1249,1337];
noteLines.forEach((s,i)=>graphic.push({type:'text',x:1003,y:noteY[i],z:20,style:{text:s,fontFamily:'Lato,"Open Sans",sans-serif',fontSize:69.5,fill:'#000',verticalAlign:'middle',
  rich:{r:{fontFamily:'Lato,"Open Sans",sans-serif',fontSize:69.5,fill:'#f00'},sq:{width:46,height:46,borderColor:'#3f7fe8',borderWidth:5,backgroundColor:'#fff'}}}}));
const chart=echarts.init(document.getElementById('c'),null,{renderer:'canvas',width:3377,height:2097});
chart.setOption({animation:false,backgroundColor:'#fff',grid,xAxis,yAxis,series,title,graphic,tooltip:{show:false}});
</script></body></html>
